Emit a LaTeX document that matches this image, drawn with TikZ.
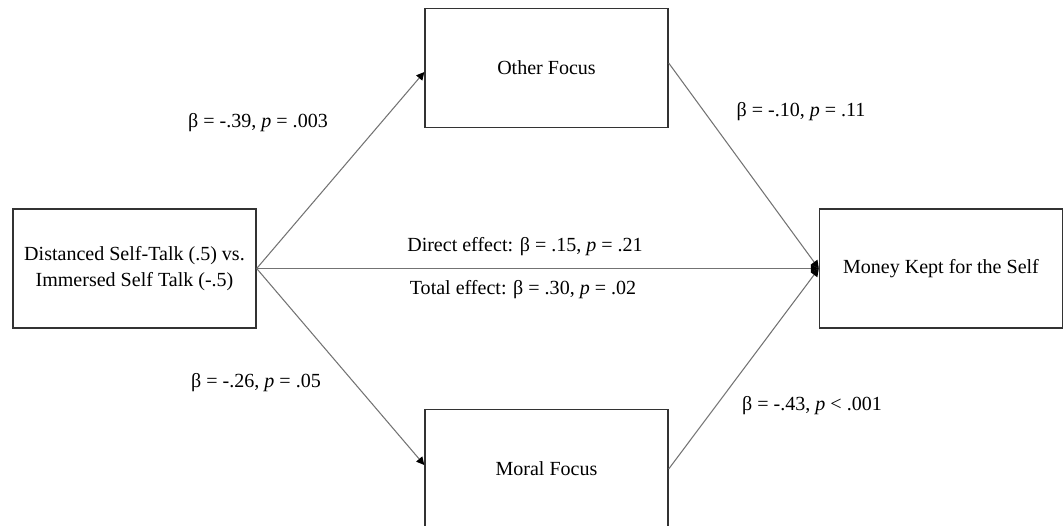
\documentclass[tikz,border=0pt]{standalone}
\usepackage{fontspec}
\setmainfont{Liberation Serif}
\usetikzlibrary{arrows.meta}

\begin{document}
\begin{tikzpicture}[x=0.02cm, y=-0.02cm,
  var/.style={draw, line width=0.8pt, black!80, text=black, align=center,
    minimum width=4.86cm, minimum height=2.38cm, inner sep=0pt,
    font=\fontsize{11.4}{14.5}\selectfont},
  coef/.style={font=\fontsize{11.4}{14}\selectfont, inner sep=0pt},
  link/.style={black!55, line width=0.6pt, -{Triangle[length=4.5pt, width=4.5pt, black]}}]

  \useasboundingbox[clip] (0,0) rectangle (1063,525);

  % variables
  \node[var] (talk)  at (134.5,268.5) {Distanced Self-Talk (.5) vs.\\ Immersed Self Talk (-.5)};
  \node[var] (other) at (546.5,68)    {Other Focus};
  \node[var] (moral) at (546.5,469)   {Moral Focus};
  \node[var] (money) at (941,268.5)   {Money Kept for the Self};

  % paths
  \draw[link] (talk.east) to ([yshift=-0.08cm]other.west);
  \draw[link] (talk.east) to ([yshift=0.08cm]moral.west);
  \draw[link] ([yshift=0.1cm]other.east) to (money.west);
  \draw[link] (moral.east) to (money.west);
  \draw[link] (talk.east) to (money.west);

  % coefficients
  \node[coef] (a1) at (258,123) {β = -.39, \textit{p} = .003};
  \node[coef] (b1) at (801,112) {β = -.10, \textit{p} = .11};
  \node[coef] (a2) at (256,383) {β = -.26, \textit{p} = .05};
  \node[coef] (b2) at (812,406) {β = -.43, \textit{p} < .001};
  \node[coef] (direct) at (525,247) {Direct effect: β = .15, \textit{p} = .21};
  \node[coef] (total)  at (523,290) {Total effect: β = .30, \textit{p} = .02};

\end{tikzpicture}
\end{document}
